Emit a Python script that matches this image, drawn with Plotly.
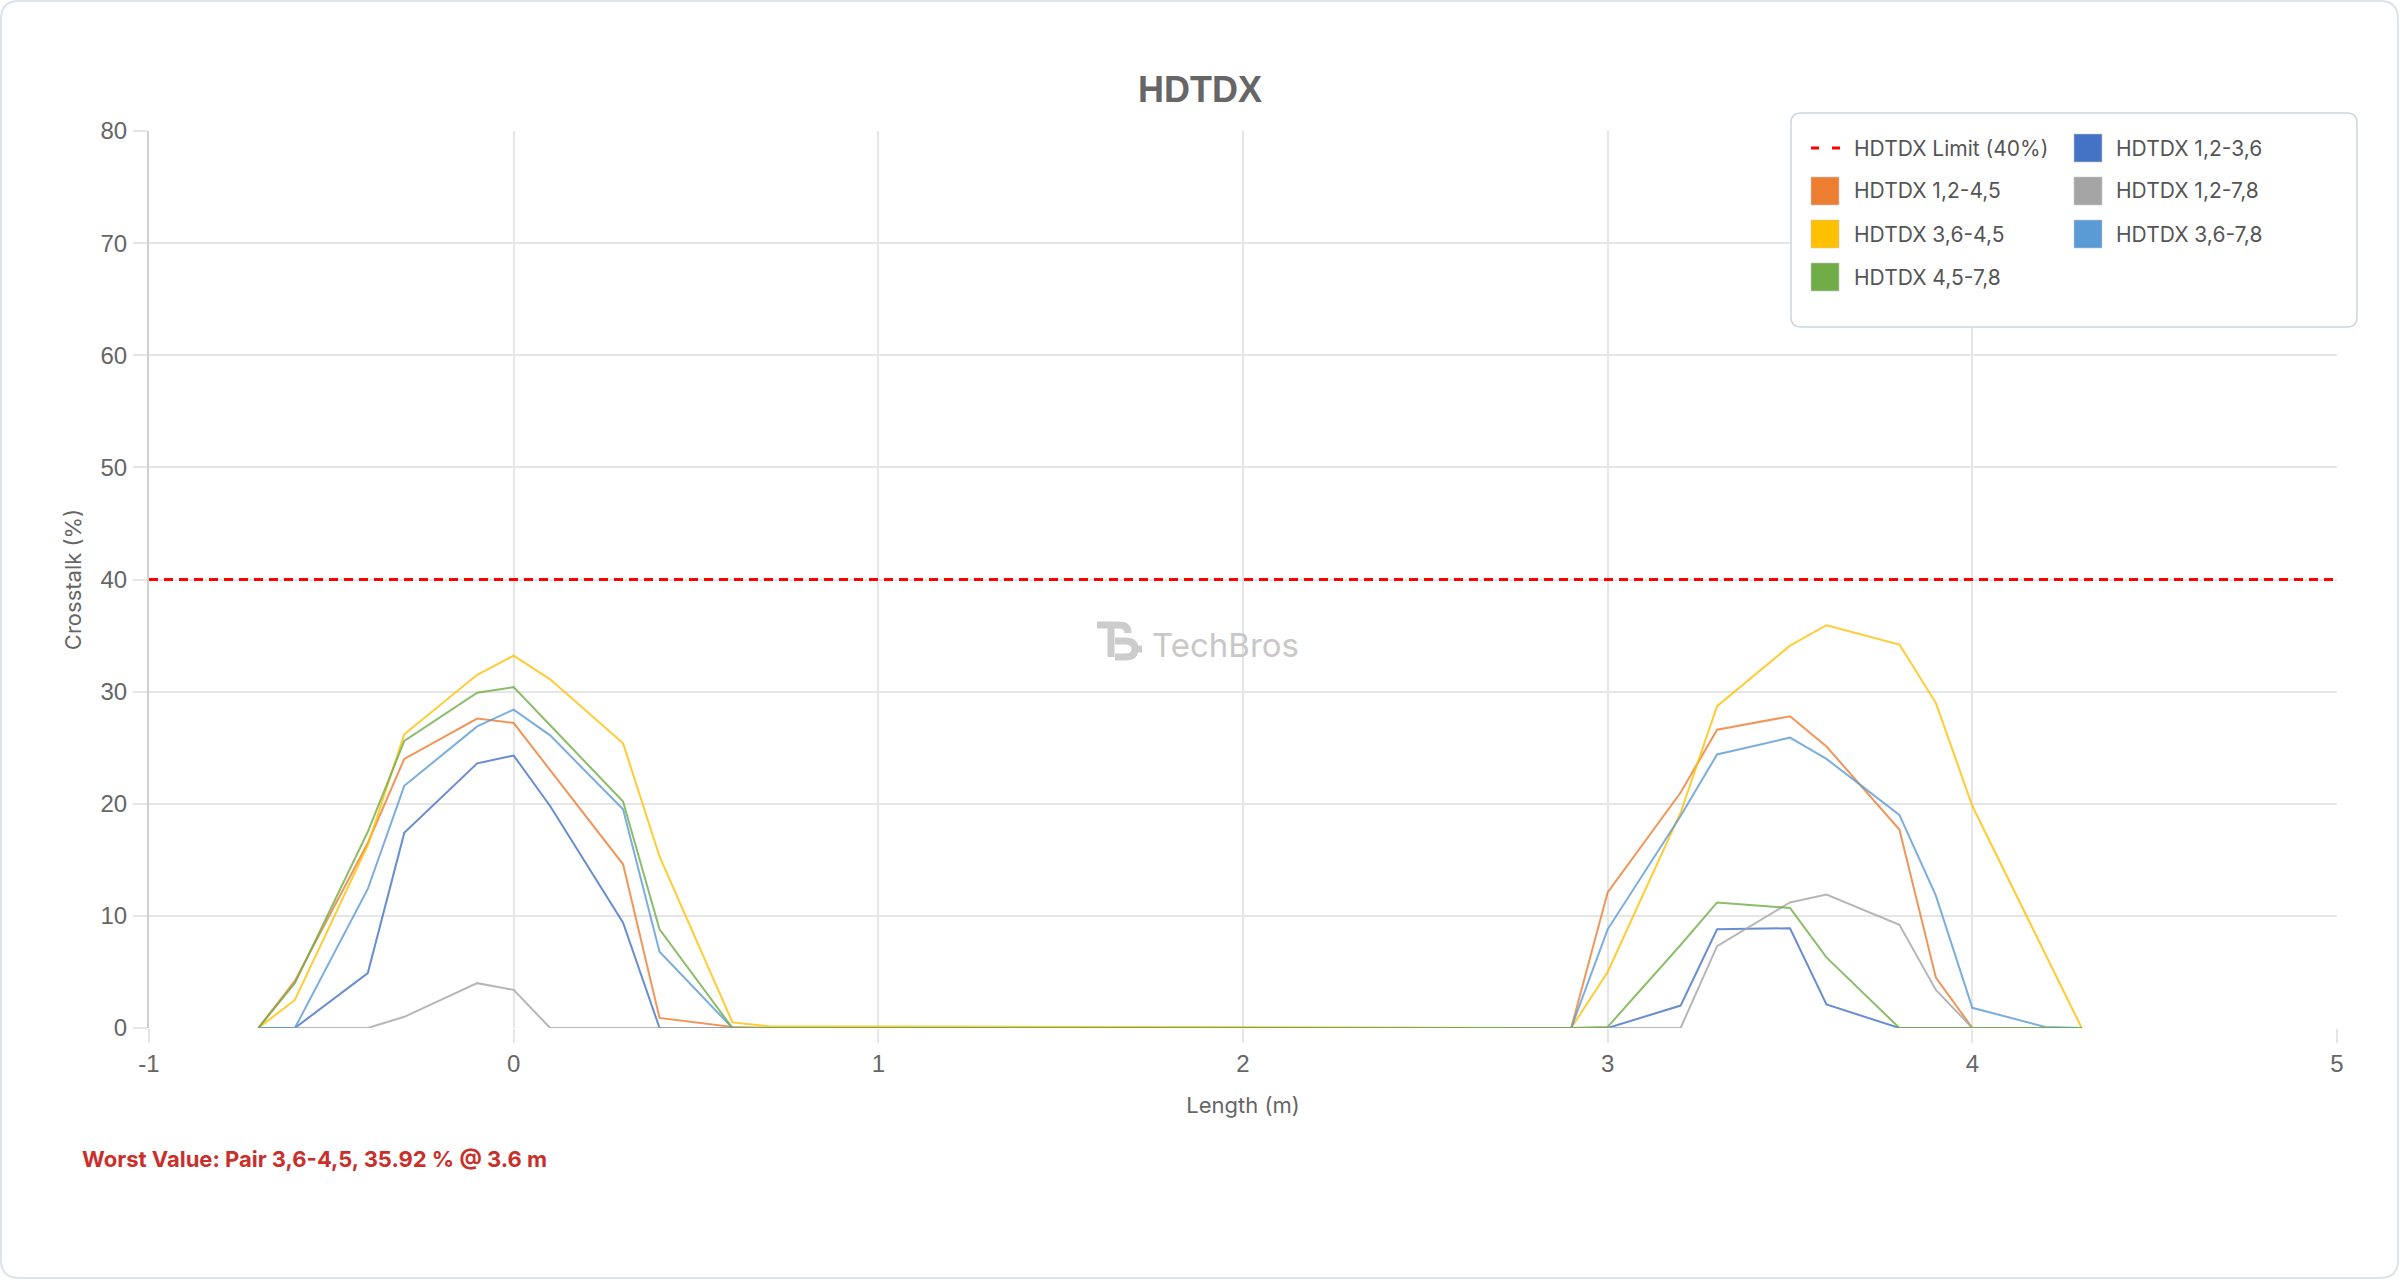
import plotly.graph_objects as go

# ---------------- data ----------------
length_m = [-0.7, -0.6, -0.4, -0.3, -0.1, 0.0, 0.1, 0.3, 0.4, 0.6, 0.7,
            2.9, 3.0, 3.2, 3.3, 3.5, 3.6, 3.8, 3.9, 4.0, 4.2, 4.3]

pair_12_36 = [0, 0, 4.9, 17.4, 23.6, 24.3, 19.8, 9.4, 0, 0, 0,
              0, 0, 2.0, 8.8, 8.9, 2.1, 0, 0, 0, 0, 0]
pair_12_45 = [0, 4.2, 16.5, 24.0, 27.6, 27.2, 23.0, 14.6, 0.9, 0.1, 0,
              0, 12.1, 21.0, 26.6, 27.8, 25.1, 17.7, 4.5, 0, 0, 0]
pair_12_78 = [0, 0, 0, 1.0, 4.0, 3.4, 0, 0, 0, 0, 0,
              0, 0, 0, 7.3, 11.2, 11.9, 9.2, 3.4, 0, 0, 0]
pair_36_45 = [0, 2.5, 16.3, 26.2, 31.5, 33.2, 31.1, 25.4, 15.3, 0.5, 0.15,
              0, 5.0, 19.2, 28.7, 34.1, 35.92, 34.2, 29.0, 19.8, 6.6, 0]
pair_36_78 = [0, 0, 12.4, 21.6, 26.9, 28.4, 26.1, 19.5, 6.8, 0, 0,
              0, 8.8, 18.9, 24.4, 25.9, 24.0, 19.0, 11.8, 1.8, 0.1, 0]
pair_45_78 = [0, 4.0, 17.5, 25.6, 29.9, 30.4, 27.0, 20.2, 8.8, 0, 0,
              0, 0.1, 7.4, 11.2, 10.7, 6.3, 0, 0, 0, 0, 0]

series_names = ["HDTDX 1,2-3,6", "HDTDX 1,2-4,5", "HDTDX 1,2-7,8",
                "HDTDX 3,6-4,5", "HDTDX 3,6-7,8", "HDTDX 4,5-7,8"]
series_values = [pair_12_36, pair_12_45, pair_12_78, pair_36_45, pair_36_78, pair_45_78]
series_colors = ["#4472C4", "#ED7D31", "#A5A5A5", "#FFC000", "#5B9BD5", "#70AD47"]

limit_name = "HDTDX Limit (40%)"
limit_x = [-1, 5]
limit_y = [40, 40]

x_ticks = [-1, 0, 1, 2, 3, 4, 5]
y_ticks = [0, 10, 20, 30, 40, 50, 60, 70, 80]

title_text = "HDTDX"
x_title = "Length (m)"
y_title = "Crosstalk (%)"
worst_text = "Worst Value: Pair 3,6-4,5, 35.92 % @ 3.6 m"
watermark_text = "TechBros"

# ---------------- layout helpers (pixels -> paper) ----------------
FW, FH = 2400, 1280
L, T, R, B = 149, 131, 63, 252
PW, PH = FW - L - R, FH - T - B


def px(x):
    return (x - L) / PW


def py(y):
    return (T + PH - y) / PH


def pt(x, y):
    return f"{px(x):.5f},{py(y):.5f}"


def rrect(x0, y0, x1, y1, r):
    return (f"M{pt(x0 + r, y0)} L{pt(x1 - r, y0)} Q{pt(x1, y0)} {pt(x1, y0 + r)} "
            f"L{pt(x1, y1 - r)} Q{pt(x1, y1)} {pt(x1 - r, y1)} "
            f"L{pt(x0 + r, y1)} Q{pt(x0, y1)} {pt(x0, y1 - r)} "
            f"L{pt(x0, y0 + r)} Q{pt(x0, y0)} {pt(x0 + r, y0)} Z")


GRID = "#e6e6e6"
TXT = "#666666"
FONT = "Liberation Sans, Arial, sans-serif"

fig = go.Figure()

fig.add_trace(go.Scatter(x=limit_x, y=limit_y, mode="lines", name=limit_name,
                         line=dict(color="#ff0000", width=3, dash="9px,6px"),
                         showlegend=False, hoverinfo="skip"))
for name, vals, col in zip(series_names, series_values, series_colors):
    fig.add_trace(go.Scatter(x=length_m, y=vals, mode="lines", name=name,
                             line=dict(color=col, width=2), opacity=0.8,
                             showlegend=False))

shapes = []
annotations = []

# outer card border
shapes.append(dict(type="path", xref="paper", yref="paper", layer="above",
                   path=rrect(1, 1, FW - 2, FH - 2, 18),
                   line=dict(color="#dbe3ec", width=2), fillcolor="rgba(0,0,0,0)"))

# legend box
shapes.append(dict(type="path", xref="paper", yref="paper", layer="above",
                   path=rrect(1791, 113, 2357, 327, 10),
                   line=dict(color="#cdd6e0", width=1.5), fillcolor="rgba(255,255,255,0.96)"))

legend_entries = [(limit_name, "#ff0000", True)] + \
    [(n, c, False) for n, c in zip(series_names, series_colors)]
col_sym_x = [1811, 2074]
col_txt_x = [1852, 2114]
row_y0, row_dy = 148, 43
for i, (name, col, is_limit) in enumerate(legend_entries):
    r, c = divmod(i, 2)
    yc = row_y0 + r * row_dy
    sx = col_sym_x[c]
    if is_limit:
        for a, b in [(sx, sx + 8), (sx + 21, sx + 29)]:
            shapes.append(dict(type="line", xref="paper", yref="paper", layer="above",
                               x0=px(a), x1=px(b), y0=py(yc), y1=py(yc),
                               line=dict(color=col, width=3)))
    else:
        shapes.append(dict(type="rect", xref="paper", yref="paper", layer="above",
                           x0=px(sx), x1=px(sx + 28), y0=py(yc - 14), y1=py(yc + 14),
                           fillcolor=col, line=dict(color="rgba(200,200,200,0.6)", width=1)))
    annotations.append(dict(text=name, xref="paper", yref="paper", showarrow=False,
                            x=px(col_txt_x[c]), y=py(yc), xanchor="left", yanchor="middle",
                            font=dict(family="Inter, sans-serif", size=21, color="#555555")))

# watermark logo + text
shapes.append(dict(type="path", xref="paper", yref="paper", layer="above",
                   path=f"M{pt(1097,625)} L{pt(1119,625)} Q{pt(1128,625)} {pt(1128,633)} "
                        f"M{pt(1111,625)} L{pt(1111,657)} "
                        f"M{pt(1115,641)} L{pt(1125,641)} Q{pt(1135,641)} {pt(1135,649)} "
                        f"Q{pt(1135,657)} {pt(1125,657)} L{pt(1115,657)} "
                        f"M{pt(1133,649)} L{pt(1142,649)}",
                   line=dict(color="#cccccc", width=7), fillcolor="rgba(0,0,0,0)"))
annotations.append(dict(text=watermark_text, xref="paper", yref="paper", showarrow=False,
                        x=px(1150), y=py(645), xanchor="left", yanchor="middle",
                        font=dict(family="Inter, sans-serif", size=33, color="#c8c8c8")))

annotations.append(dict(text=worst_text, xref="paper", yref="paper", showarrow=False,
                        x=px(80), y=py(1159), xanchor="left", yanchor="middle",
                        font=dict(family="Inter, sans-serif", size=22, color="#c9302c", weight="bold")))

fig.update_layout(
    width=FW, height=FH, autosize=False,
    margin=dict(l=L, r=R, t=T, b=B, pad=0),
    paper_bgcolor="white", plot_bgcolor="white",
    showlegend=False,
    title=dict(text=title_text, x=0.5, xref="container", xanchor="center",
               y=1 - 89 / FH, yref="container", yanchor="middle",
               font=dict(family=FONT, size=36, color=TXT, weight="bold")),
    xaxis=dict(range=[-1, 5], tickvals=x_ticks, ticktext=[str(v) for v in x_ticks],
               showgrid=True, gridcolor=GRID, gridwidth=1.5, zeroline=False,
               showline=False, ticks="outside", ticklen=14, tickcolor=GRID, tickwidth=1.5,
               ticklabelstandoff=0,
               tickfont=dict(family=FONT, size=24, color=TXT),
               title=dict(text=x_title, standoff=21,
                          font=dict(family="Inter, sans-serif", size=22, color=TXT))),
    yaxis=dict(range=[0, 80], tickvals=y_ticks, ticktext=[str(v) for v in y_ticks],
               showgrid=True, gridcolor=GRID, gridwidth=1.5, zeroline=False,
               showline=True, linecolor="#d0d0d0", linewidth=2,
               ticks="outside", ticklen=14, tickcolor=GRID, tickwidth=1.5,
               ticklabelstandoff=1,
               tickfont=dict(family=FONT, size=24, color=TXT),
               title=dict(text=y_title, standoff=13,
                          font=dict(family="Inter, sans-serif", size=22, color=TXT))),
    shapes=shapes,
    annotations=annotations,
)

fig.write_html("out.html", config={"displayModeBar": False},
               post_script="document.body.style.margin='0';")
